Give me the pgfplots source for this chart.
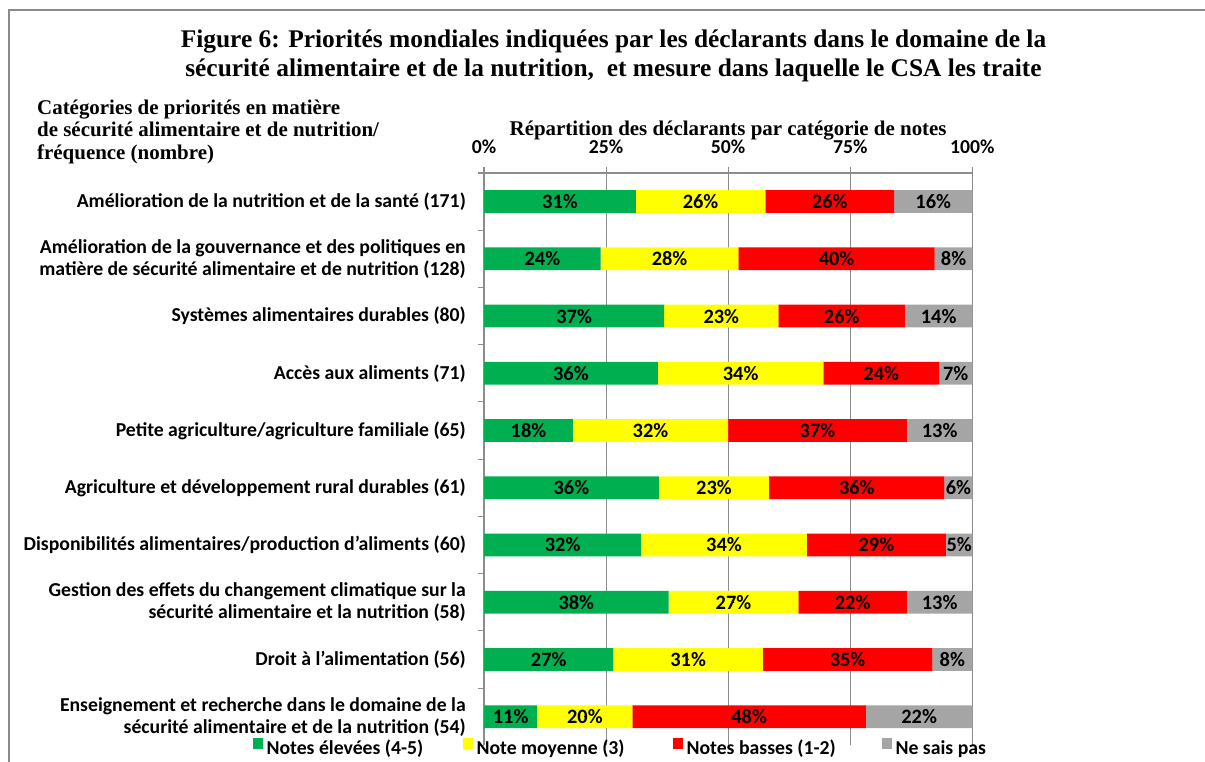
\documentclass[border=0pt]{standalone}
\usepackage{pgfplots}
\pgfplotsset{compat=1.18}
\usepackage{fontspec}
\setmainfont{Carlito}
\newfontfamily\serifb{Liberation Serif}
\definecolor{cgreen}{HTML}{00B050}
\definecolor{cyellow}{HTML}{FFFF00}
\definecolor{cred}{HTML}{FF0000}
\definecolor{cgray}{HTML}{A5A5A5}
\definecolor{axgray}{HTML}{8C8C8C}
\definecolor{framegray}{HTML}{8A8A8A}
\newcommand\lab{\bfseries\fontsize{19.8}{22}\selectfont}
\newcommand\blab{\bfseries\fontsize{20.5}{22}\selectfont}
\newcommand\hdr{\serifb\bfseries\fontsize{21}{22}\selectfont}
\begin{document}
\begin{tikzpicture}[x=1bp,y=1bp]
\useasboundingbox (0,0) rectangle (1205,762);
\draw[framegray, line width=1.3bp] (9,-5) -- (9,752) -- (1210,752);
\node[font=\serifb\bfseries\fontsize{25.5}{28}\selectfont, anchor=base] at (613.5,714) {Figure 6: Priorités mondiales indiquées par les déclarants dans le domaine de la};
\node[font=\serifb\bfseries\fontsize{25.5}{28}\selectfont, anchor=base] at (613.5,685.5) {sécurité alimentaire et de la nutrition,\ \ et mesure dans laquelle le CSA les traite};
\node[font=\hdr, anchor=base west, inner sep=0pt] at (37,647.5) {Catégories de priorités en matière};
\node[font=\hdr, anchor=base west, inner sep=0pt] at (37,625) {de sécurité alimentaire et de nutrition/};
\node[font=\hdr, anchor=base west, inner sep=0pt] at (37,602.5) {fréquence (nombre)};
\begin{axis}[
  at={(484bp,589bp)}, anchor=north west,
  width=488.3bp, height=572.3bp, scale only axis,
  xmin=0, xmax=100, ymin=0.5, ymax=10.5,
  xbar stacked, bar width=0.397,
  axis x line*=top, axis y line*=left,
  axis line style={draw=axgray, line width=1.1bp, -},
  xtick={0,25,50,75,100},
  xticklabels={0\%,25\%,50\%,75\%,100\%},
  xticklabel pos=upper,
  xticklabel style={font=\lab, inner sep=0pt, anchor=base, yshift=13bp},
  xmajorgrids, grid style={draw=axgray, line width=1.1bp},
  tick align=outside, major tick length=6bp,
  tick style={draw=axgray, line width=1.1bp},
  ytick={1,...,10},
  yticklabels={
    {Enseignement et recherche dans le domaine de la\\sécurité alimentaire et de la nutrition (54)},
    {Droit à l'alimentation (56)},
    {Gestion des effets du changement climatique sur la\\sécurité alimentaire et la nutrition (58)},
    {Disponibilités alimentaires/production d'aliments (60)},
    {Agriculture et développement rural durables (61)},
    {Petite agriculture/agriculture familiale (65)},
    {Accès aux aliments (71)},
    {Systèmes alimentaires durables (80)},
    {Amélioration de la gouvernance et des politiques en\\matière de sécurité alimentaire et de nutrition (128)},
    {Amélioration de la nutrition et de la santé (171)}},
  yticklabel style={font=\lab, align=right, inner sep=0pt, xshift=-12bp},
  ytick style={draw=none},
  extra y ticks={0.5,1.5,2.5,3.5,4.5,5.5,6.5,7.5,8.5,9.5,10.5},
  extra y tick labels={},
  extra y tick style={ytick style={draw=axgray, line width=1.1bp}},
  title={Répartition des déclarants par catégorie de notes},
  title style={font=\hdr, at={(0.5,1)}, anchor=base, inner sep=0pt, yshift=32bp},
  legend image code/.code={\fill[#1] (0bp,-1bp) rectangle (10bp,10bp);},
  legend columns=4,
  legend style={at={(-0.4739,-0.003)}, anchor=west, draw=none, fill=none,
    inner sep=0pt, outer sep=0pt, font=\lab,
    /tikz/every even column/.append style={column sep=0bp},
    nodes={inner sep=0pt}},
]
\addplot[fill=cgreen, draw=none] coordinates {
 (31.1,10) (23.9,9) (36.9,8) (35.6,7) (18.2,6) (35.8,5) (32.2,4) (37.8,3) (26.5,2) (10.9,1)};
\addplot[fill=cyellow, draw=none] coordinates {
 (26.5,10) (28.2,9) (23.4,8) (33.9,7) (31.8,6) (22.6,5) (33.9,4) (26.6,3) (30.6,2) (19.5,1)};
\addplot[fill=cred, draw=none] coordinates {
 (26.4,10) (40.2,9) (25.9,8) (23.7,7) (36.6,6) (35.9,5) (28.5,4) (22.2,3) (34.7,2) (47.8,1)};
\addplot[fill=cgray, draw=none] coordinates {
 (16.0,10) (7.7,9) (13.8,8) (6.8,7) (13.4,6) (5.7,5) (5.4,4) (13.4,3) (8.2,2) (21.8,1)};
\addlegendentry{\makebox[200bp][l]{\hspace{4bp}Notes élevées (4-5)}}
\addlegendentry{\makebox[200bp][l]{\hspace{4bp}Note moyenne (3)}}
\addlegendentry{\makebox[199bp][l]{\hspace{4bp}Notes basses (1-2)}}
\addlegendentry{\hspace{4bp}Ne sais pas}
\end{axis}
\begin{axis}[
  at={(484bp,589bp)}, anchor=north west,
  width=488.3bp, height=572.3bp, scale only axis,
  xmin=0, xmax=100, ymin=0.5, ymax=10.5,
  hide axis,
]
\addplot[only marks, mark=*, mark size=0.5bp, mark options={draw=none, fill=none},
  nodes near coords, point meta=explicit symbolic,
  every node near coord/.append style={anchor=center, font=\blab, inner sep=0pt, text=black}]
 coordinates {
 (15.55,10) [31\%] (44.35,10) [26\%] (70.8,10) [26\%] (92.0,10) [16\%]
 (11.95,9) [24\%] (38.0,9) [28\%] (72.2,9) [40\%] (96.15,9) [8\%]
 (18.45,8) [37\%] (48.6,8) [23\%] (73.25,8) [26\%] (93.1,8) [14\%]
 (17.8,7) [36\%] (52.55,7) [34\%] (81.35,7) [24\%] (96.6,7) [7\%]
 (9.1,6) [18\%] (34.1,6) [32\%] (68.3,6) [37\%] (93.3,6) [13\%]
 (17.9,5) [36\%] (47.1,5) [23\%] (76.35,5) [36\%] (97.15,5) [6\%]
 (16.1,4) [32\%] (49.15,4) [34\%] (80.35,4) [29\%] (97.3,4) [5\%]
 (18.9,3) [38\%] (51.1,3) [27\%] (75.5,3) [22\%] (93.3,3) [13\%]
 (13.25,2) [27\%] (41.8,2) [31\%] (74.45,2) [35\%] (95.9,2) [8\%]
 (5.45,1) [11\%] (20.65,1) [20\%] (54.3,1) [48\%] (89.1,1) [22\%]
 };
\end{axis}
\end{tikzpicture}
\end{document}
